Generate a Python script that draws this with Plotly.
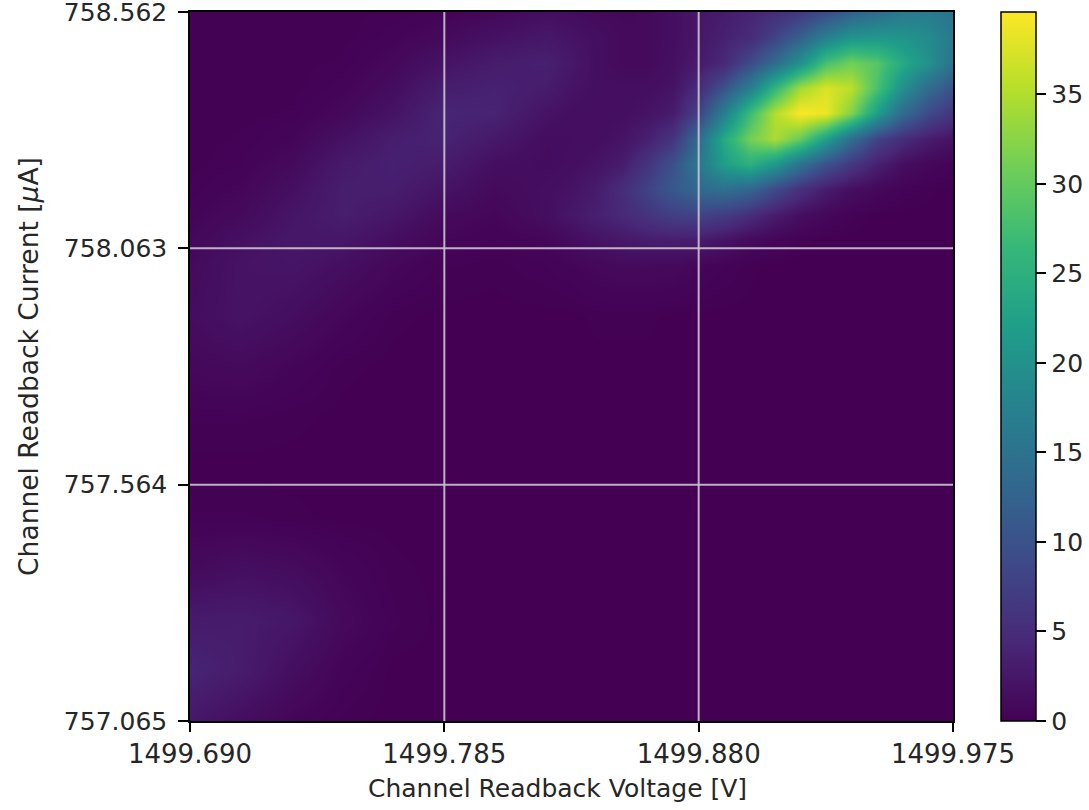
import plotly.graph_objects as go

x_ticks = [1499.690, 1499.785, 1499.880, 1499.975]
y_ticks = [757.065, 757.564, 758.063, 758.562]
cbar_ticks = [0, 5, 10, 15, 20, 25, 30, 35]

# sample positions across the plot (finer where the picture has most detail)
x_steps = [0, 2, 4, 6, 8, 10, 12, 14, 15, 16, 17, 18, 19, 20, 21, 22, 23, 24, 25, 26, 27, 28, 29, 30]
y_steps = [0, 1, 2, 3, 4, 5, 6, 7, 8, 9, 10, 12, 14, 16, 18, 20, 22, 24, 26, 28]

# density, top row first, left to right
row_01 = [.1,.1,.1,.1,.2,.3,.8,1.5, 1.3,1,.9,1,1.5,2.5,3,4,5,6.5,9,12,14,16,16.5,15]
row_02 = [.1,.1,.1,.1,.4,1,1.8,2.5, 2,1.5,1,1,1.5,2.5,3.5,4.7,8,12,17,20.5,21,20.5,19,16]
row_03 = [.1,.1,.1,.2,.8,2,3,3.5, 2.5,1.5,1,1,1.7,2.9,4.5,9,14,20,28,31,29,24,20,15]
row_04 = [.1,.1,.1,.4,1.3,3.2,3.6,3, 2,1.5,1.5,1.5,2,5,10,17,26,34,37.5,35.5,28,20,14,10]
row_05 = [.1,.1,.2,.8,2,4,3.8,2, 1.5,1.5,1.5,2,3,8,17,27,35,39.6,38.5,32,22,14,9,6]
row_06 = [.1,.2,.5,1.8,3.2,3.8,2.6,1.3, 1.4,1.5,2,3.5,6,14,24,31,34.5,30,22,14,8,5,3,2]
row_07 = [.1,.3,1,2.8,3.5,3,1.5,1.2, 1.5,2,3,6,10,16,22,25,21,15,10,6.5,3.5,1.5,.7,.3]
row_08 = [.2,.6,1.6,3.2,3.2,2,1,1.5, 2,3,5,8,11,13.5,14.5,13,9,5.5,3,1.5,.8,.3,.1,0]
row_09 = [.4,1,2.2,3.2,2.4,1,.6,1.5, 2.5,3.5,4.5,6,7.5,8,7,5,3,1.5,.7,.2,0,0,0,0]
row_10 = [.7,1.7,2.5,2.4,1.4,.5,.3,.6, 1.2,2,2.5,3,3.2,3,2,1,.5,.1,0,0,0,0,0,0]
row_11 = [1,2,2.2,1.5,.7,.2,.1,.3, .5,.8,1,1,.9,.6,.3,.1,0,0,0,0,0,0,0,0]
row_12 = [1.3,2,1.4,.6,.1,0,0,0, 0,.1,.1,.1,0,0,0,0,0,0,0,0,0,0,0,0]
row_13 = [.8,1,.5,.1,0,0,0,0, 0,0,0,0,0,0,0,0,0,0,0,0,0,0,0,0]
row_14 = [.2,.2,.1,0,0,0,0,0, 0,0,0,0,0,0,0,0,0,0,0,0,0,0,0,0]
row_15 = [0,0,0,0,0,0,0,0, 0,0,0,0,0,0,0,0,0,0,0,0,0,0,0,0]
row_16 = [.2,.2,.1,0,0,0,0,0, 0,0,0,0,0,0,0,0,0,0,0,0,0,0,0,0]
row_17 = [1,1.5,1.2,.5,.1,0,0,0, 0,0,0,0,0,0,0,0,0,0,0,0,0,0,0,0]
row_18 = [2.8,3,2.4,.9,.2,0,0,0, 0,0,0,0,0,0,0,0,0,0,0,0,0,0,0,0]
row_19 = [4,3,1.5,.4,0,0,0,0, 0,0,0,0,0,0,0,0,0,0,0,0,0,0,0,0]
row_20 = [2.5,1.4,.5,.1,0,0,0,0, 0,0,0,0,0,0,0,0,0,0,0,0,0,0,0,0]

z = [row_01, row_02, row_03, row_04, row_05, row_06, row_07, row_08, row_09, row_10,
     row_11, row_12, row_13, row_14, row_15, row_16, row_17, row_18, row_19, row_20]

x_nodes = [x_ticks[0] + (x_ticks[-1] - x_ticks[0]) * s / 30 for s in x_steps]
y_nodes = [y_ticks[-1] - (y_ticks[-1] - y_ticks[0]) * s / 28 for s in y_steps]

FONT = "DejaVu Sans"
TXT = "#262626"

fig = go.Figure(go.Heatmap(
    x=x_nodes, y=y_nodes, z=z,
    colorscale="Viridis", zmin=0, zmax=39.6, zsmooth="best",
    colorbar=dict(
        thickness=35, thicknessmode="pixels", len=1, lenmode="fraction",
        x=1.0629, xanchor="left", y=0.5, yanchor="middle",
        xpad=0, ypad=0,
        tickvals=cbar_ticks, ticks="outside", ticklen=10, tickwidth=1.5, tickcolor="black",
        outlinecolor="black", outlinewidth=1.5,
        tickfont=dict(family=FONT, size=25, color=TXT),
    ),
))

shapes = []
for v in x_ticks[1:-1]:
    shapes.append(dict(type="line", xref="x", yref="paper", x0=v, x1=v, y0=0, y1=1,
                       line=dict(color="rgba(205,195,210,0.9)", width=2)))
for v in y_ticks[1:-1]:
    shapes.append(dict(type="line", xref="paper", yref="y", x0=0, x1=1, y0=v, y1=v,
                       line=dict(color="rgba(205,195,210,0.9)", width=2)))

axis_common = dict(
    showgrid=False, zeroline=False, showline=True, linecolor="black", linewidth=1.5,
    mirror=True, ticks="outside", tickwidth=1.5, tickcolor="black",
    tickformat=".3f", automargin=False,
)

fig.update_layout(
    width=1089, height=810,
    margin=dict(l=190, r=136, t=12, b=89, autoexpand=False),
    paper_bgcolor="white", plot_bgcolor="white",
    shapes=shapes,
    xaxis=dict(axis_common, range=[x_ticks[0], x_ticks[-1]], tickvals=x_ticks, ticklen=9,
               tickfont=dict(family=FONT, size=26, color=TXT)),
    yaxis=dict(axis_common, range=[y_ticks[0], y_ticks[-1]], tickvals=y_ticks, ticklen=10,
               ticklabelstandoff=6, ticklabeloverflow="allow",
               tickfont=dict(family=FONT, size=25, color=TXT),
               title=dict(text="Channel Readback Current [<i>μ</i>A]", standoff=18,
                          font=dict(family=FONT, size=26.5, color=TXT))),
    annotations=[dict(text="Channel Readback Voltage [V]", xref="paper", yref="paper",
                      x=0.4823, y=-0.0945, xanchor="center", yanchor="middle", showarrow=False,
                      font=dict(family=FONT, size=25, color=TXT))],
)

fig.write_html("out.html", config={"displayModeBar": False},
               post_script="document.body.style.margin='0';document.body.style.overflow='hidden';")
